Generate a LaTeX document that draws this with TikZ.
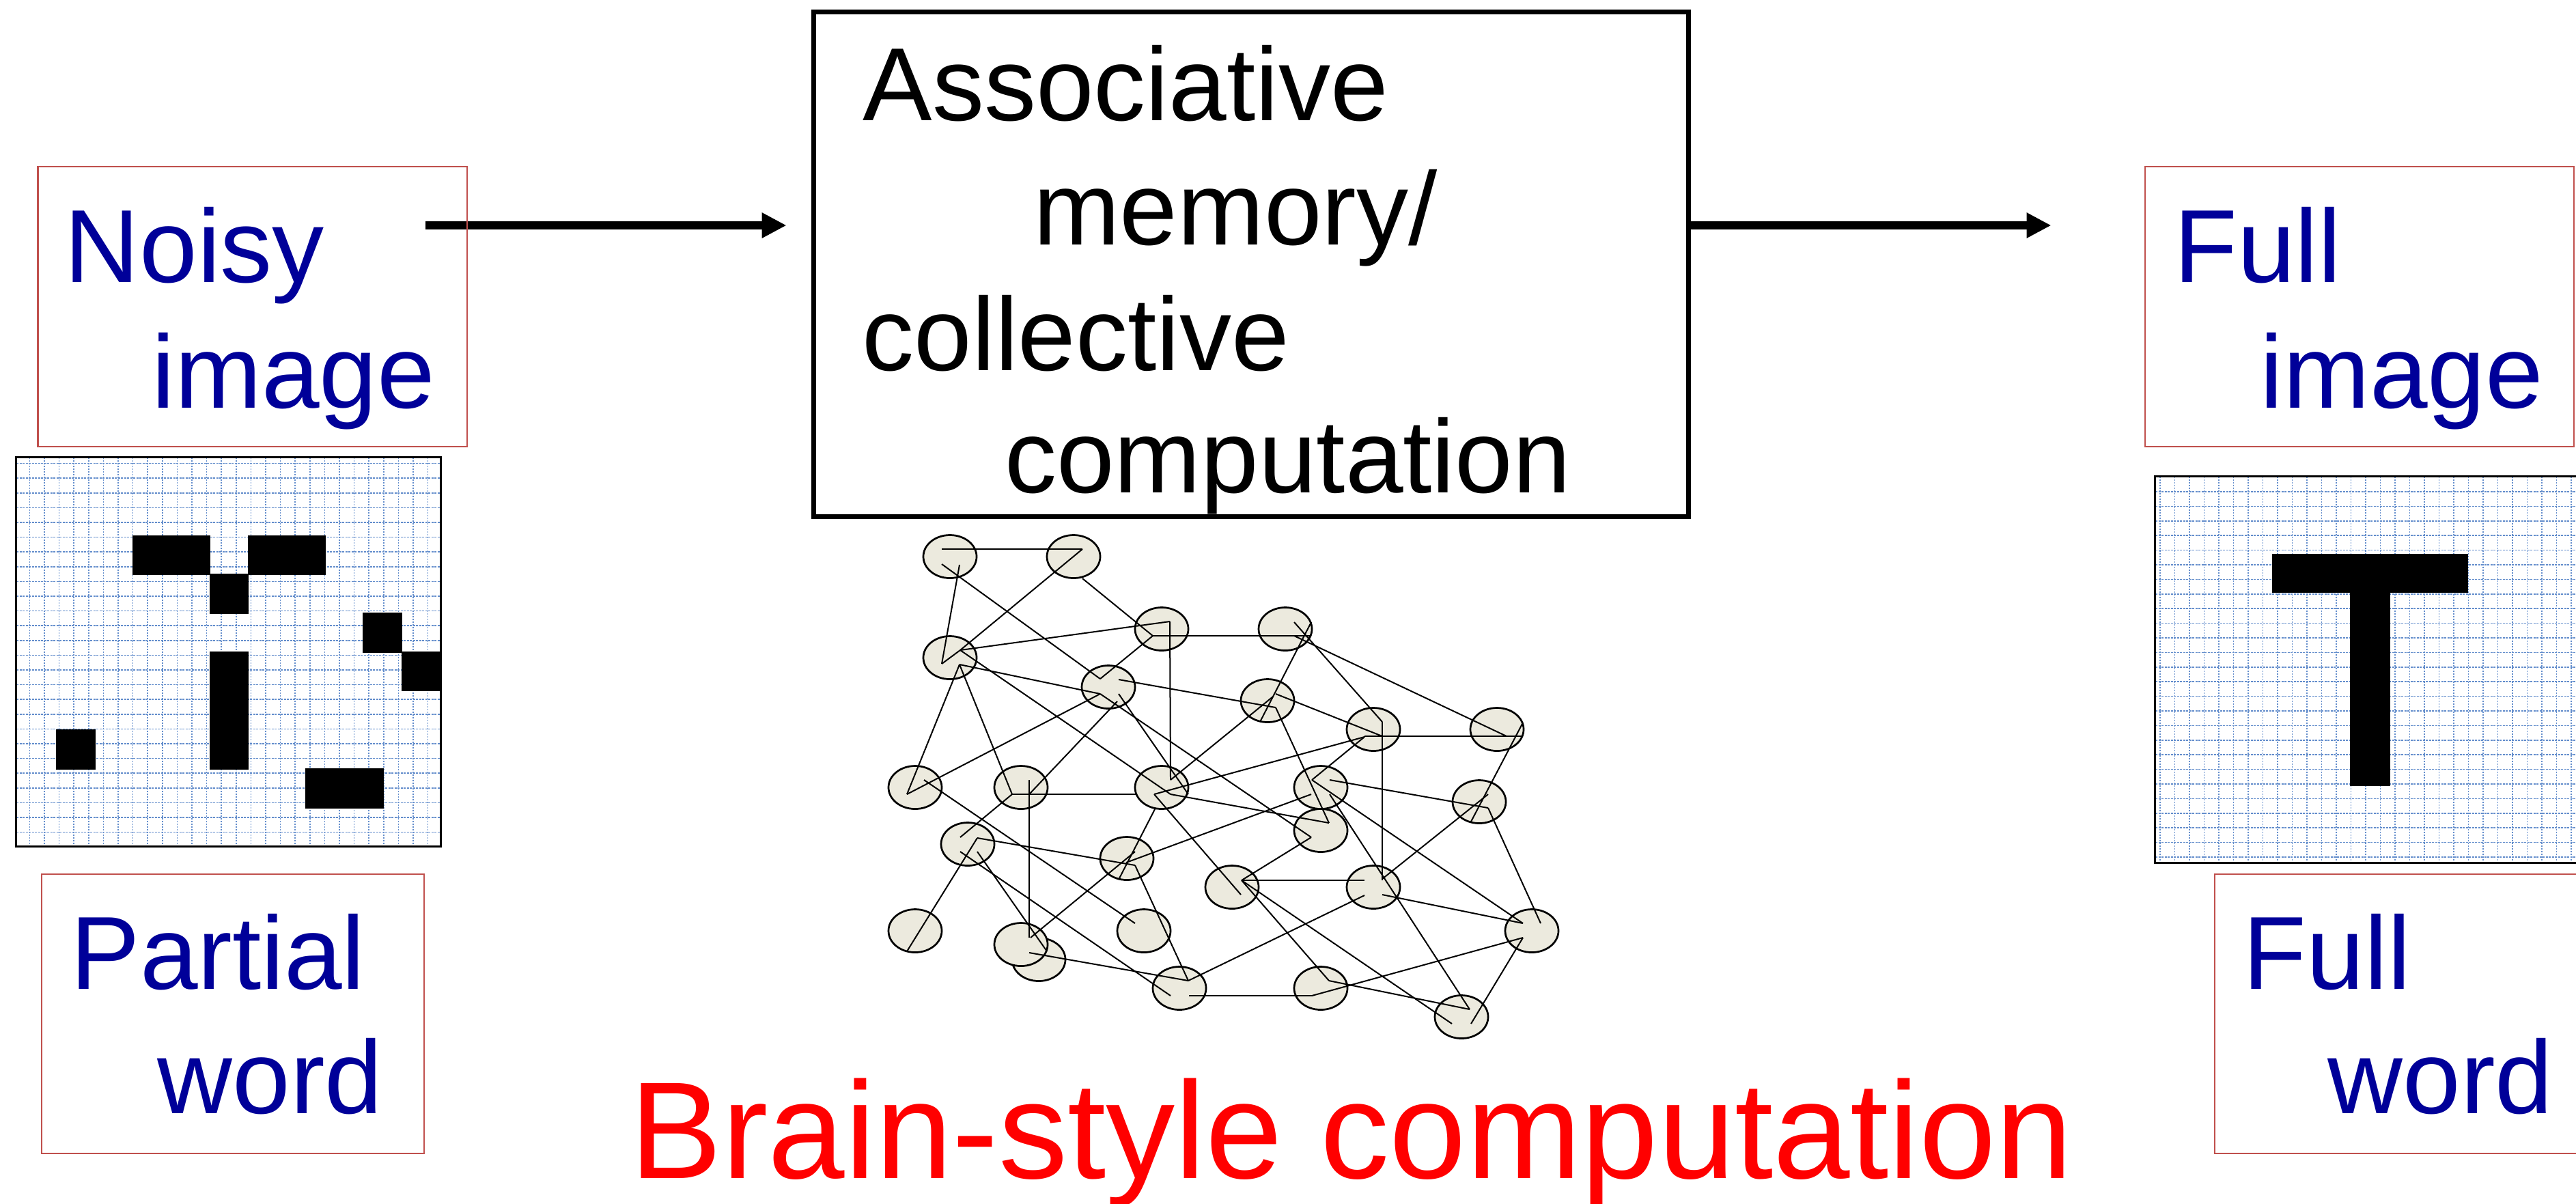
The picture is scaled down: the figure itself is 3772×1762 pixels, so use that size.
\documentclass[tikz,border=0pt]{standalone}
\usepackage{fontspec}
\setmainfont{Liberation Sans}
\usetikzlibrary{arrows.meta,shapes.geometric}
\definecolor{lblblue}{RGB}{0,0,153}
\definecolor{boxred}{RGB}{192,80,77}
\definecolor{cellfill}{RGB}{236,234,222}
\definecolor{gridblue}{RGB}{100,142,204}
% one straight link of the network, from a point near one cell to a point near another
\newcommand\netedge[6]{\draw[wire] ([shift={(#2,#3)}]#1.center) -- ([shift={(#5,#6)}]#4.center);}
\begin{document}
\begin{tikzpicture}[x=0.01cm,y=-0.01cm,
  redbox/.style={draw=boxred, line width=0.025cm, inner sep=0pt},
  lbl/.style={font=\fontsize{43.25}{50}\selectfont, inner sep=0pt, anchor=base west},
  memframe/.style={draw=black, line width=0.07cm, inner sep=0pt},
  gridframe/.style={draw=black, line width=0.03cm, inner sep=0pt},
  gridv/.style={gridblue, line width=0.016cm, dash pattern=on 0.02cm off 0.02cm},
  gridh/.style={gridblue, line width=0.016cm, dash pattern=on 0.03cm off 0.015cm},
  cell/.style={ellipse, draw=black, fill=cellfill, line width=0.027cm,
               minimum width=0.78cm, minimum height=0.63cm, inner sep=0pt},
  wire/.style={black, line width=0.02cm},
  bigarrow/.style={line width=0.12cm, -{Triangle[length=0.36cm,width=0.35cm]}}]

\begin{scope}
\clip (0,0) rectangle (3772,1762);
\fill[white] (0,0) rectangle (3772,1762);

% ---------- central box ----------
\node[memframe, minimum width=12.81cm, minimum height=7.39cm] (mem) at (1832,387) {};
\node[lbl] (m1) at (1263,176.5) {Associative};
\node[lbl] (m2) at (1512.5,358) {memory/};
\node[lbl] (m3) at (1262,542) {collective};
\node[lbl] (m4) at (1470.6,721) {computation};

% ---------- labelled boxes ----------
\coordinate (a1s) at (623,330);
\draw[bigarrow, shorten >=0.36cm] (a1s) -- (mem.west |- a1s);

\node[redbox, minimum width=6.285cm, minimum height=4.10cm] (noisybox) at (369.75,449) {};
\node[redbox, minimum width=6.28cm, minimum height=4.10cm] (fullbox) at (3455,449) {};
\node[redbox, minimum width=5.60cm, minimum height=4.09cm] (partbox) at (341,1484.5) {};
\node[redbox, minimum width=5.60cm, minimum height=4.09cm] (wordbox) at (3523,1484.5) {};

\draw[bigarrow, shorten >=1.36cm] (mem.east |- a1s) -- (fullbox.west |- a1s);

\node[lbl, text=lblblue] (t1) at (94,413) {Noisy};
\node[lbl, text=lblblue] (t2) at (222,597) {image};
\node[lbl, text=lblblue] (t3) at (3182.5,413) {Full};
\node[lbl, text=lblblue] (t4) at (3309,597) {image};
\node[lbl, text=lblblue] (t5) at (103,1448.5) {Partial};
\node[lbl, text=lblblue] (t6) at (230,1630) {word};
\node[lbl, text=lblblue] (t7) at (3284,1448.5) {Full};
\node[lbl, text=lblblue] (t8) at (3408,1630) {word};

% ---------- noisy pixel image ----------
\begin{scope}
  \clip (24,670) rectangle (645,1239);
  \foreach \k in {0,...,27} \draw[gridv] ({43.4+21.6*\k},670) -- ++(0,569);
  \foreach \k in {0,...,25} \draw[gridh] (24,{678.5+21.6*\k}) -- ++(621,0);
\end{scope}
\fill (194,784) rectangle (308,842);
\fill (363,784) rectangle (477,842);
\fill (307,840) rectangle (364,899);
\fill (307,954) rectangle (364,1127);
\fill (531,897) rectangle (589,956);
\fill (588,954) rectangle (645,1012);
\fill (81.5,1068) rectangle (139.6,1127);
\fill (447,1125) rectangle (562,1184);
\node[gridframe, minimum width=6.21cm, minimum height=5.69cm] (noisygrid) at (334.5,954.5) {};

% ---------- full pixel image ----------
\begin{scope}
  \clip (3156,697.5) rectangle (3777,1263);
  \foreach \k in {0,...,28} \draw[gridv] ({3162.8+21.5*\k},697.5) -- ++(0,566);
  \foreach \k in {0,...,25} \draw[gridh] (3156,{720+21.4*\k}) -- ++(621,0);
\end{scope}
\fill (3327,811) rectangle (3614,868);
\fill (3441,866) rectangle (3500,1151);
\node[gridframe, minimum width=6.21cm, minimum height=5.655cm] (fullgrid) at (3466.5,980.25) {};

% ---------- network of cells ----------
\node[cell] (A) at (1391,815) {};
\node[cell] (B) at (1572,815) {};
\node[cell] (C) at (1701,921) {};
\node[cell] (D) at (1882,921) {};
\node[cell] (E) at (1391,963) {};
\node[cell] (F) at (1623,1006) {};
\node[cell] (G) at (1856,1026) {};
\node[cell] (H) at (2011,1068) {};
\node[cell] (I) at (2192,1068) {};
\node[cell] (J) at (1340,1153) {};
\node[cell] (K) at (1495,1153) {};
\node[cell] (L) at (1701,1153) {};
\node[cell] (M) at (1934,1153) {};
\node[cell] (N) at (2166,1174) {};
\node[cell] (O) at (1934,1216) {};
\node[cell] (P) at (1417,1236) {};
\node[cell] (Q) at (1650,1257) {};
\node[cell] (R) at (1804,1299) {};
\node[cell] (S) at (2011,1299) {};
\node[cell] (T) at (1340,1363) {};
\node[cell] (V) at (1521,1405) {};
\node[cell] (U) at (1495,1383) {};
\node[cell] (W) at (1675,1363) {};
\node[cell] (X) at (2243,1363) {};
\node[cell] (Y) at (1727,1447) {};
\node[cell] (Z) at (1934,1447) {};
\node[cell] (AA) at (2140,1489) {};

\netedge{A}{-12}{-11}{B}{13}{-11}
\netedge{B}{13}{-11}{E}{15}{-11}
\netedge{A}{14}{12}{E}{-12}{9}
\netedge{E}{-12}{9}{E}{15}{-11}
\netedge{E}{15}{-11}{C}{12}{-11}
\netedge{C}{12}{-11}{L}{13}{-11}
\netedge{B}{13}{32}{C}{-13}{10}
\netedge{C}{-13}{10}{D}{38}{10}
\netedge{C}{-13}{10}{F}{-12}{-12}
\netedge{F}{-12}{-12}{A}{-12}{11}
\netedge{F}{15}{-11}{G}{12}{10}
\netedge{E}{14}{10}{F}{-12}{10}
\netedge{F}{-12}{10}{O}{-14}{10}
\netedge{F}{15}{10}{L}{39}{10}
\netedge{F}{13}{21}{K}{12}{10}
\netedge{E}{14}{10}{J}{-12}{10}
\netedge{J}{-12}{10}{F}{-12}{10}
\netedge{E}{14}{10}{K}{-13}{10}
\netedge{K}{-13}{10}{L}{-37}{10}
\netedge{K}{12}{-11}{U}{12}{-10}
\netedge{E}{15}{-11}{L}{13}{10}
\netedge{L}{-11}{10}{H}{-13}{11}
\netedge{L}{13}{-11}{G}{8}{-6}
\netedge{L}{13}{10}{O}{12}{-11}
\netedge{L}{-11}{10}{R}{13}{11}
\netedge{L}{-9}{30}{Q}{-12}{31}
\netedge{J}{13}{-11}{W}{-13}{-11}
\netedge{K}{-13}{10}{P}{-11}{-10}
\netedge{D}{13}{-10}{H}{13}{-11}
\netedge{D}{38}{-10}{G}{-11}{31}
\netedge{D}{13}{10}{I}{14}{10}
\netedge{G}{12}{-10}{H}{13}{10}
\netedge{G}{12}{10}{O}{12}{-11}
\netedge{H}{13}{-11}{S}{13}{-10}
\netedge{H}{-13}{10}{I}{38}{10}
\netedge{H}{-13}{11}{M}{-13}{-11}
\netedge{I}{38}{-10}{N}{-12}{29}
\netedge{M}{-13}{-11}{X}{-13}{-11}
\netedge{M}{13}{-11}{N}{13}{9}
\netedge{N}{13}{9}{X}{13}{-11}
\netedge{N}{13}{-11}{S}{13}{-12}
\netedge{M}{-14}{10}{Q}{-1}{6}
\netedge{M}{13}{10}{AA}{12}{-11}
\netedge{O}{-14}{10}{R}{14}{-10}
\netedge{R}{14}{-10}{S}{-13}{-10}
\netedge{R}{14}{-10}{Z}{12}{-11}
\netedge{R}{14}{-10}{AA}{-14}{10}
\netedge{S}{-13}{12}{Y}{13}{-11}
\netedge{S}{13}{11}{X}{-13}{-11}
\netedge{X}{-13}{10}{Z}{-13}{11}
\netedge{X}{-13}{10}{AA}{14}{10}
\netedge{Z}{12}{-11}{AA}{12}{-11}
\netedge{Y}{14}{11}{Z}{-13}{11}
\netedge{Q}{12}{-10}{U}{14}{-10}
\netedge{P}{14}{-9}{Q}{12}{10}
\netedge{P}{14}{-9}{T}{-12}{30}
\netedge{P}{-11}{11}{Y}{-13}{11}
\netedge{P}{14}{11}{V}{12}{-12}
\netedge{U}{12}{12}{Y}{13}{-11}
\netedge{Q}{12}{10}{Y}{13}{-11}

% ---------- caption ----------
\node[inner sep=0pt, anchor=base west, text=red, font=\fontsize{57.5}{60}\selectfont]
  (title) at (922,1725.5) {Brain-style computation};
\end{scope}

\pgfresetboundingbox
\useasboundingbox (0,0) rectangle (3772,1762);
\end{tikzpicture}
\end{document}
